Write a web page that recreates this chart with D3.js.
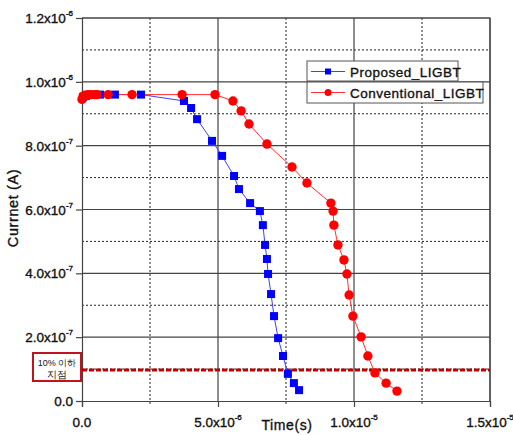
<!DOCTYPE html>
<html><head><meta charset="utf-8">
<script src="https://cdn.jsdelivr.net/npm/d3@7"></script>
<style>body{margin:0;background:#fff}svg{display:block}text{font-family:"Liberation Sans",Arial,sans-serif}</style>
</head><body><svg id="c" width="513" height="435"></svg>
<script>
// Time in microseconds, current in units of 1e-7 A
const proposedTime = [0.04,0.15,0.29,0.66,1.21,2.17,3.75,4.01,4.23,4.78,5.15,5.59,5.77,6.18,6.54,6.65,6.73,6.80,6.84,6.95,7.06,7.21,7.39,7.57,7.79,7.98];
const proposedCurrent = [9.52,9.56,9.59,9.60,9.60,9.60,9.40,9.18,8.83,8.15,7.68,7.05,6.64,6.20,5.95,5.51,4.89,4.45,3.98,3.35,2.66,1.97,1.41,0.85,0.56,0.34];
const conventionalTime = [0.0,0.04,0.11,0.22,0.33,0.48,0.55,0.96,1.84,3.68,4.89,5.55,5.85,6.14,6.80,7.72,8.27,9.15,9.23,9.26,9.41,9.63,9.74,9.82,9.96,10.26,10.51,10.77,11.18,11.58];
const conventionalCurrent = [9.45,9.55,9.58,9.60,9.60,9.60,9.60,9.60,9.60,9.60,9.60,9.40,9.09,8.68,8.05,7.33,6.83,6.20,5.95,5.51,4.89,4.42,3.98,3.32,2.66,2.01,1.41,0.88,0.56,0.31];
const thresholdCurrent = 0.97;
const yTicks = [0,2,4,6,8,10,12];
const yTickLabels = [["0.0",""],["2.0x10","-7"],["4.0x10","-7"],["6.0x10","-7"],["8.0x10","-7"],["1.0x10","-6"],["1.2x10","-6"]];
const xTicks = [0,5,10,15];
const xTickLabels = [["0.0",""],["5.0x10","-6"],["1.0x10","-5"],["1.5x10","-5"]];
const yMinor = [1,3,5,7,9,11];
const xMinor = [2.5,7.5,12.5];
const seriesNames = ["Proposed_LIGBT","Conventional_LIGBT"];

const svg = d3.select("#c");
const L=82,R=490,T=18,B=401;
const x = d3.scaleLinear().domain([0,15]).range([L,R]);
const y = d3.scaleLinear().domain([0,12]).range([B,T]);
const heavy = s => s.attr("fill","#111").attr("stroke","#111").attr("stroke-width",0.35);

// grid
const g = svg.append("g");
g.selectAll(".ym").data(yMinor).join("line").attr("x1",L).attr("x2",R).attr("y1",d=>y(d)).attr("y2",d=>y(d))
 .attr("stroke","#222").attr("stroke-width",1).attr("stroke-dasharray","2,2");
g.selectAll(".xm").data(xMinor).join("line").attr("x1",d=>x(d)).attr("x2",d=>x(d)).attr("y1",T).attr("y2",B+3)
 .attr("stroke","#222").attr("stroke-width",1).attr("stroke-dasharray","2,2");
g.selectAll(".yM").data(yTicks.slice(1)).join("line").attr("x1",L).attr("x2",R).attr("y1",d=>y(d)).attr("y2",d=>y(d))
 .attr("stroke","#444").attr("stroke-width",1.2);
g.selectAll(".xM").data(xTicks.slice(1)).join("line").attr("x1",d=>x(d)).attr("x2",d=>x(d)).attr("y1",T).attr("y2",B)
 .attr("stroke","#444").attr("stroke-width",1.2);
// axes
const ax = svg.append("g").attr("transform",`translate(0,${B})`).call(d3.axisBottom(x).tickValues(xTicks).tickSize(6).tickFormat(""));
const ay = svg.append("g").attr("transform",`translate(${L},0)`).call(d3.axisLeft(y).tickValues(yTicks).tickSize(6).tickFormat(""));
[ax,ay].forEach(a=>{a.select(".domain").attr("stroke","#444").attr("stroke-width",1.2);a.selectAll(".tick line").attr("stroke","#444").attr("stroke-width",1.2);});

// y tick labels
yTicks.forEach((v,i)=>{
  const t = svg.append("text").attr("x",73).attr("y",y(v)+5).attr("text-anchor","end").attr("font-size",13.5).call(heavy);
  t.append("tspan").text(yTickLabels[i][0]);
  if(yTickLabels[i][1]) t.append("tspan").attr("dy",-7).attr("font-size",8).text(yTickLabels[i][1]);
});
// x tick labels
xTicks.forEach((v,i)=>{
  const t = svg.append("text").attr("x",x(v)).attr("y",427).attr("text-anchor","middle").attr("font-size",13.5).call(heavy);
  t.append("tspan").text(xTickLabels[i][0]);
  if(xTickLabels[i][1]) t.append("tspan").attr("dy",-7).attr("font-size",8).text(xTickLabels[i][1]);
});
// axis titles
svg.append("text").attr("x",287).attr("y",430).attr("text-anchor","middle").attr("font-size",14).attr("letter-spacing",0.6).call(heavy).text("Time(s)");
svg.append("text").attr("transform","translate(18,208) rotate(-90)").attr("text-anchor","middle").attr("font-size",14.5).attr("letter-spacing",0.6).call(heavy).text("Currnet (A)");

// plot border
svg.append("path").attr("d",`M${L},${T}H${R}V${B}`).attr("fill","none").attr("stroke","#444").attr("stroke-width",1.2);

// threshold line
svg.append("line").attr("x1",L).attr("x2",R).attr("y1",y(thresholdCurrent)).attr("y2",y(thresholdCurrent))
 .attr("stroke","#c00000").attr("stroke-width",3).attr("stroke-dasharray","5,2");
svg.append("rect").attr("x",33).attr("y",353).attr("width",48).attr("height",28).attr("fill","#fff").attr("stroke","#c0141c").attr("stroke-width",2);
svg.append("text").attr("x",57).attr("y",365.5).attr("text-anchor","middle").attr("font-size",9).attr("font-family","Noto Sans CJK KR").attr("fill","#111").text("10% 이하");
svg.append("text").attr("x",57).attr("y",377.5).attr("text-anchor","middle").attr("font-size",9.5).attr("font-family","Noto Sans CJK KR").attr("fill","#111").text("지점");

// series
const line = d3.line().x(d=>x(d[0])).y(d=>y(d[1]));
const pData = proposedTime.map((t,i)=>[t,proposedCurrent[i]]);
const cData = conventionalTime.map((t,i)=>[t,conventionalCurrent[i]]);
svg.append("path").datum(pData).attr("d",line).attr("fill","none").attr("stroke","#4040ff").attr("stroke-width",1);
svg.append("path").datum(cData).attr("d",line).attr("fill","none").attr("stroke","#ff3030").attr("stroke-width",1);
svg.selectAll(".pm").data(pData).join("rect").attr("x",d=>x(d[0])-4).attr("y",d=>y(d[1])-4).attr("width",8).attr("height",8).attr("fill","#0000ff");
svg.selectAll(".cm").data(cData).join("circle").attr("cx",d=>x(d[0])).attr("cy",d=>y(d[1])).attr("r",4.7).attr("fill","#ff0000");

// legend
const leg = [{y:61,w:151,name:seriesNames[0],c:"#0000ff",lc:"#4040ff",sq:true},{y:82,w:176,name:seriesNames[1],c:"#ff0000",lc:"#ff3030",sq:false}];
leg.forEach(l=>{
  svg.append("rect").attr("x",307).attr("y",l.y).attr("width",l.w).attr("height",l.y===61?20:21).attr("fill","#fff").attr("stroke","#555").attr("stroke-width",1);
  const cy = l.y+10.5;
  svg.append("line").attr("x1",311).attr("x2",345).attr("y1",cy).attr("y2",cy).attr("stroke",l.lc).attr("stroke-width",1);
  if(l.sq) svg.append("rect").attr("x",325).attr("y",cy-3).attr("width",6).attr("height",6).attr("fill",l.c);
  else svg.append("circle").attr("cx",328).attr("cy",cy).attr("r",3.5).attr("fill",l.c);
  svg.append("text").attr("x",350).attr("y",cy+5).attr("font-size",13.5).attr("letter-spacing",0.5).call(heavy).text(l.name);
});
</script></body></html>
